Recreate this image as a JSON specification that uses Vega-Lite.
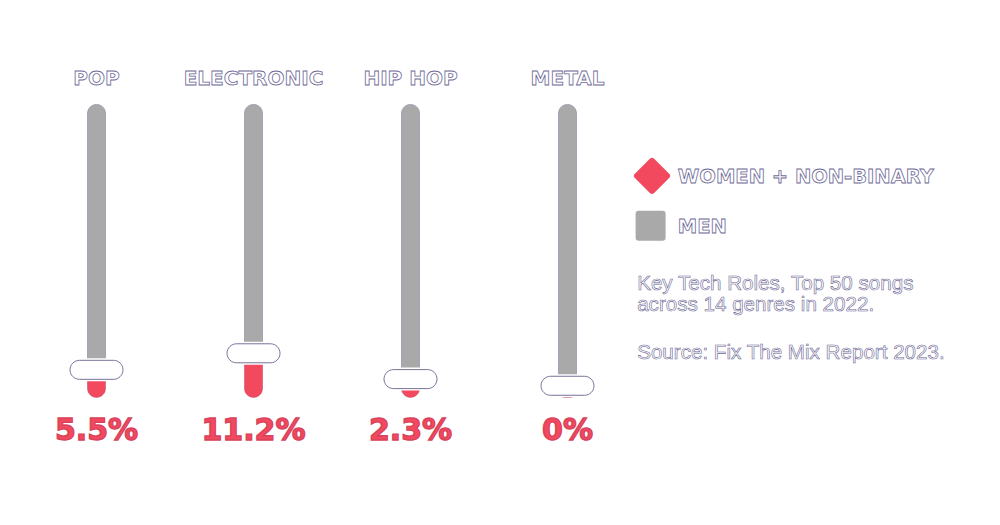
{
  "$schema": "https://vega.github.io/schema/vega-lite/v6.json",
  "background": "white",
  "padding": {"left": 18, "top": 0, "right": 0, "bottom": 0},
  "spacing": 0,
  "bounds": "flush",
  "config": {"view": {"stroke": null}},
  "datasets": {
    "genres": [
      {"genre": "POP", "pct": 5.5, "label": "5.5%"},
      {"genre": "ELECTRONIC", "pct": 11.2, "label": "11.2%"},
      {"genre": "HIP HOP", "pct": 2.3, "label": "2.3%"},
      {"genre": "METAL", "pct": 0, "label": "0%"}
    ],
    "legend": [
      {"group": "WOMEN + NON-BINARY"},
      {"group": "MEN"}
    ],
    "notes": [
      {"line1": "Key Tech Roles, Top 50 songs", "line2": "across 14 genres in 2022.", "source": "Source: Fix The Mix Report 2023."}
    ]
  },
  "hconcat": [
    {
      "width": 628,
      "height": 525,
      "data": {"name": "genres"},
      "encoding": {
        "x": {"field": "genre", "type": "nominal", "sort": null, "axis": null,
              "scale": {"paddingInner": 0, "paddingOuter": 0}}
      },
      "layer": [
        {
          "mark": {"type": "bar", "size": 18, "color": "#a9a9a9", "stroke": "#85819f", "strokeWidth": 0.6,
                   "cornerRadiusTopLeft": 9, "cornerRadiusTopRight": 9},
          "encoding": {
            "y": {"field": "pct", "type": "quantitative", "axis": null,
                  "scale": {"domain": [-48, 133], "nice": false, "zero": false}},
            "y2": {"datum": 97}
          }
        },
        {
          "mark": {"type": "bar", "size": 18, "color": "#f2495f", "stroke": "#b7465e", "strokeWidth": 0.5,
                   "cornerRadiusBottomLeft": 9, "cornerRadiusBottomRight": 9},
          "encoding": {
            "y": {"field": "pct", "type": "quantitative"},
            "y2": {"datum": -4}
          }
        },
        {
          "mark": {"type": "tick", "orient": "horizontal", "size": 57, "thickness": 23,
                   "color": "white", "opacity": 1, "cornerRadius": 11},
          "encoding": {"y": {"field": "pct", "type": "quantitative"}}
        },
        {
          "mark": {"type": "tick", "orient": "horizontal", "size": 53, "thickness": 19,
                   "fill": "white", "stroke": "#77739a", "strokeWidth": 1, "opacity": 1, "cornerRadius": 9.5},
          "encoding": {"y": {"field": "pct", "type": "quantitative"}}
        },
        {
          "mark": {"type": "text", "font": "DejaVu Sans", "fontWeight": "bold", "fontSize": 20,
                   "fill": "white", "stroke": "#6d6896", "strokeWidth": 0.8, "baseline": "middle", "align": "center"},
          "encoding": {
            "y": {"datum": 105.8, "type": "quantitative"},
            "text": {"field": "genre"}
          }
        },
        {
          "mark": {"type": "text", "font": "DejaVu Sans", "fontWeight": "bold", "fontSize": 30,
                   "fill": "#f2495f", "stroke": "#d8435b", "strokeWidth": 1.4, "baseline": "middle", "align": "center"},
          "encoding": {
            "y": {"datum": -15.6, "type": "quantitative"},
            "text": {"field": "label"}
          }
        }
      ]
    },
    {
      "width": 354,
      "height": 525,
      "data": {"name": "legend"},
      "layer": [
        {
          "transform": [{"filter": "datum.group == 'WOMEN + NON-BINARY'"}],
          "mark": {"type": "point", "shape": "diamond", "size": 900, "filled": true, "opacity": 1,
                   "fill": "#f2495f", "stroke": "#f2495f", "strokeWidth": 6, "strokeJoin": "round"},
          "encoding": {
            "x": {"datum": 1.7, "type": "quantitative", "axis": null,
                  "scale": {"domain": [0, 100], "nice": false, "zero": false}},
            "y": {"datum": 33.5, "type": "quantitative", "axis": null,
                  "scale": {"domain": [0, 100], "nice": false, "zero": false, "reverse": true}}
          }
        },
        {
          "transform": [{"filter": "datum.group == 'MEN'"}],
          "mark": {"type": "point", "shape": "square", "size": 576, "filled": true, "opacity": 1,
                   "fill": "#a9a9a9", "stroke": "#a9a9a9", "strokeWidth": 6, "strokeJoin": "round"},
          "encoding": {
            "x": {"datum": 1.3, "type": "quantitative"},
            "y": {"datum": 43.0, "type": "quantitative"}
          }
        },
        {
          "transform": [{"filter": "datum.group == 'WOMEN + NON-BINARY'"}],
          "mark": {"type": "text", "font": "DejaVu Sans", "fontWeight": "bold", "fontSize": 19.5,
                   "fill": "white", "stroke": "#6d6896", "strokeWidth": 0.8, "baseline": "middle", "align": "left"},
          "encoding": {
            "x": {"datum": 9.0, "type": "quantitative"},
            "y": {"datum": 33.7, "type": "quantitative"},
            "text": {"field": "group"}
          }
        },
        {
          "transform": [{"filter": "datum.group == 'MEN'"}],
          "mark": {"type": "text", "font": "DejaVu Sans", "fontWeight": "bold", "fontSize": 19.5,
                   "fill": "white", "stroke": "#6d6896", "strokeWidth": 0.8, "baseline": "middle", "align": "left"},
          "encoding": {
            "x": {"datum": 9.0, "type": "quantitative"},
            "y": {"datum": 43.2, "type": "quantitative"},
            "text": {"field": "group"}
          }
        },
        {
          "data": {"name": "notes"},
          "mark": {"type": "text", "font": "Liberation Sans", "fontSize": 20.6,
                   "fill": "white", "stroke": "#6d6896", "strokeWidth": 0.6, "baseline": "middle", "align": "left"},
          "encoding": {
            "x": {"datum": -2.5, "type": "quantitative"},
            "y": {"datum": 54.1, "type": "quantitative"},
            "text": {"field": "line1"}
          }
        },
        {
          "data": {"name": "notes"},
          "mark": {"type": "text", "font": "Liberation Sans", "fontSize": 20.6,
                   "fill": "white", "stroke": "#6d6896", "strokeWidth": 0.6, "baseline": "middle", "align": "left"},
          "encoding": {
            "x": {"datum": -2.5, "type": "quantitative"},
            "y": {"datum": 58.1, "type": "quantitative"},
            "text": {"field": "line2"}
          }
        },
        {
          "data": {"name": "notes"},
          "mark": {"type": "text", "font": "Liberation Sans", "fontSize": 20.6,
                   "fill": "white", "stroke": "#6d6896", "strokeWidth": 0.6, "baseline": "middle", "align": "left"},
          "encoding": {
            "x": {"datum": -2.5, "type": "quantitative"},
            "y": {"datum": 67.2, "type": "quantitative"},
            "text": {"field": "source"}
          }
        }
      ]
    }
  ]
}
